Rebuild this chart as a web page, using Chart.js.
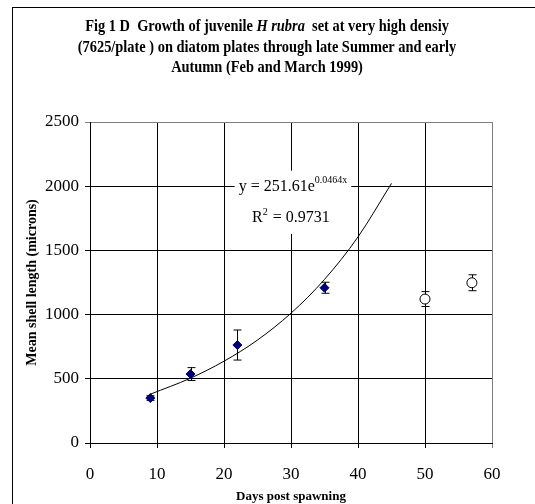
<!DOCTYPE html>
<html>
<head>
<meta charset="utf-8">
<script src="https://cdn.jsdelivr.net/npm/chart.js@4.4.1/dist/chart.umd.min.js"></script>
<style>
  html, body { margin: 0; padding: 0; background: #fff; }
  #wrap { width: 535px; height: 504px; }
</style>
</head>
<body>
<div id="wrap"><canvas id="growthChart" width="535" height="504"></canvas></div>
<script>
// early samples (filled diamonds)
const days = [9, 15, 22, 35];
const meanLength = [350, 537, 763, 1209];
const errLength = [18, 50, 117, 43];

// later samples (open circles)
const daysLate = [50, 57];
const meanLate = [1121, 1248];
const errLate = [58, 62];

// exponential trendline as drawn in the figure
const trendDays = [9, 15, 20, 25, 30, 35, 40, 45];
const trendLength = [380, 505, 637, 802, 1011, 1274, 1605, 2022];

const xTicks = [0, 10, 20, 30, 40, 50, 60];
const yTicks = [0, 500, 1000, 1500, 2000, 2500];

const serif = "'Liberation Serif', 'Times New Roman', serif";

const toPoints = (xs, ys) => xs.map((x, i) => ({ x: x, y: ys[i] }));

// outer frame + title
const framePlugin = {
    id: 'frame',
    beforeDraw(chart) {
        const c = chart.ctx;
        c.save();
        c.fillStyle = '#fff';
        c.fillRect(0, 0, chart.width, chart.height);
        c.strokeStyle = '#000';
        c.lineWidth = 1;
        c.strokeRect(12.5, 7.5, 560, 520);
        c.restore();
    },
    afterDraw(chart) {
        const c = chart.ctx;
        const lines = [
            [['Fig 1 D  Growth of juvenile ', false], ['H rubra', true], ['  set at very high densiy', false]],
            [['(7625/plate ) on diatom plates through late Summer and early', false]],
            [['Autumn (Feb and March 1999)', false]]
        ];
        const baselines = [31, 52, 72];
        const squeeze = 0.9;
        const cx = 267;
        c.save();
        c.fillStyle = '#000';
        c.textBaseline = 'alphabetic';
        lines.forEach((segs, li) => {
            let total = 0;
            segs.forEach(([t, it]) => {
                c.font = (it ? 'italic ' : '') + 'bold 16px ' + serif;
                total += c.measureText(t).width;
            });
            c.save();
            c.translate(cx - total * squeeze / 2, baselines[li]);
            c.scale(squeeze, 1);
            let x = 0;
            segs.forEach(([t, it]) => {
                c.font = (it ? 'italic ' : '') + 'bold 16px ' + serif;
                c.fillText(t, x, 0);
                x += c.measureText(t).width;
            });
            c.restore();
        });
        c.restore();
    }
};

// error bars + trendline equation box
const errorBarPlugin = {
    id: 'errorBars',
    beforeDatasetsDraw(chart) {
        const c = chart.ctx;
        const xs = chart.scales.x, ys = chart.scales.y;
        c.save();
        c.strokeStyle = '#000';
        c.lineWidth = 1;
        const drawBars = (xv, yv, ev) => {
            xv.forEach((d, i) => {
                const px = Math.round(xs.getPixelForValue(d)) + 0.5;
                const top = ys.getPixelForValue(yv[i] + ev[i]);
                const bot = ys.getPixelForValue(yv[i] - ev[i]);
                c.beginPath();
                c.moveTo(px, top); c.lineTo(px, bot);
                c.moveTo(px - 4, top); c.lineTo(px + 4, top);
                c.moveTo(px - 4, bot); c.lineTo(px + 4, bot);
                c.stroke();
            });
        };
        drawBars(days, meanLength, errLength);
        drawBars(daysLate, meanLate, errLate);

        // equation label
        const right = xs.getPixelForValue(38.4);
        const base1 = ys.getPixelForValue(1965);
        const base2 = ys.getPixelForValue(1722);
        c.font = '16px ' + serif;
        const main = 'y = 251.61e';
        const sup = '0.0464x';
        const r2 = 'R';
        const r2rest = ' = 0.9731';
        const wMain = c.measureText(main).width;
        c.font = '10px ' + serif;
        const wSup = c.measureText(sup).width;
        const left1 = right - wMain - wSup;
        c.font = '16px ' + serif;
        const wR = c.measureText(r2).width + c.measureText(r2rest).width + 6;
        const left2 = (left1 + right) / 2 - wR / 2 - 2;
        c.fillStyle = '#fff';
        c.fillRect(left1 - 4, base1 - 20, right - left1 + 8, base2 - base1 + 32);
        c.fillStyle = '#000';
        c.textBaseline = 'alphabetic';
        c.fillText(main, left1, base1);
        c.font = '10px ' + serif;
        c.fillText(sup, left1 + wMain, base1 - 8);
        c.font = '16px ' + serif;
        c.fillText(r2, left2, base2);
        let xr = left2 + c.measureText(r2).width;
        c.font = '10px ' + serif;
        c.fillText('2', xr, base2 - 7);
        xr += 6;
        c.font = '16px ' + serif;
        c.fillText(r2rest, xr, base2);
        c.restore();
    }
};

const ctx = document.getElementById('growthChart').getContext('2d');

new Chart(ctx, {
    type: 'scatter',
    data: {
        datasets: [
            {
                label: 'Trend',
                data: toPoints(trendDays, trendLength),
                showLine: true,
                borderColor: '#000',
                borderWidth: 1,
                pointRadius: 0,
                tension: 0.3,
                cubicInterpolationMode: 'monotone'
            },
            {
                label: 'Feb-Mar',
                data: toPoints(days, meanLength),
                pointStyle: 'rectRot',
                pointRadius: 4.5,
                backgroundColor: '#00007a',
                borderColor: '#00007a',
                borderWidth: 1
            },
            {
                label: 'Later',
                data: toPoints(daysLate, meanLate),
                pointStyle: 'circle',
                pointRadius: 5,
                backgroundColor: '#fff',
                borderColor: '#000',
                borderWidth: 1
            }
        ]
    },
    options: {
        responsive: false,
        animation: false,
        layout: { padding: { left: 0, right: 43, top: 122, bottom: 0 } },
        plugins: {
            legend: { display: false },
            tooltip: { enabled: false },
            title: { display: false }
        },
        scales: {
            x: {
                type: 'linear',
                min: 0,
                max: 60,
                afterBuildTicks: (axis) => { axis.ticks = xTicks.map(v => ({ value: v })); },
                afterFit: (axis) => { axis.height = 61; },
                border: { display: true, color: '#000', width: 1 },
                grid: {
                    color: (g) => g.tick && g.tick.value === 60 ? '#808080' : '#000',
                    lineWidth: 1,
                    tickLength: 5,
                    drawTicks: true
                },
                ticks: {
                    color: '#000',
                    padding: 16,
                    maxRotation: 0,
                    callback: (v) => String(v),
                    font: { family: serif, size: 17 }
                },
                title: {
                    display: true,
                    text: 'Days post spawning',
                    color: '#000',
                    padding: { top: 0, bottom: 0 },
                    font: { family: serif, size: 13, weight: 'bold' }
                }
            },
            y: {
                type: 'linear',
                min: 0,
                max: 2500,
                afterBuildTicks: (axis) => { axis.ticks = yTicks.map(v => ({ value: v })); },
                afterFit: (axis) => { axis.width = 90; },
                border: { display: true, color: '#000', width: 1 },
                grid: {
                    color: (g) => g.tick && g.tick.value === 2500 ? '#808080' : '#000',
                    lineWidth: 1,
                    tickLength: 5,
                    drawTicks: true
                },
                ticks: {
                    color: '#000',
                    padding: 6,
                    callback: (v) => String(v),
                    font: { family: serif, size: 17 }
                },
                title: {
                    display: true,
                    text: 'Mean shell length (microns)',
                    color: '#000',
                    padding: { top: 24, bottom: 0 },
                    font: { family: serif, size: 14, weight: 'bold' }
                }
            }
        }
    },
    plugins: [framePlugin, errorBarPlugin]
});
</script>
</body>
</html>
